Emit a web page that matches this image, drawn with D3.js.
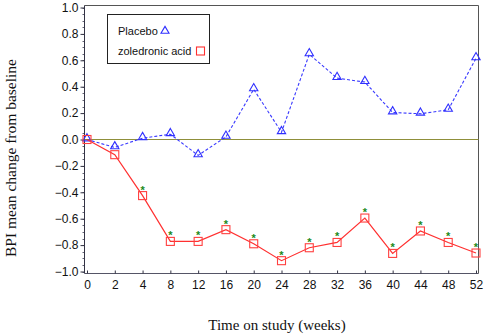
<!DOCTYPE html>
<html>
<head>
<meta charset="utf-8">
<script src="https://cdn.jsdelivr.net/npm/d3@7"></script>
<style>
  body { margin: 0; background: #fff; }
  .tick text { font-family: "Liberation Sans", Arial, sans-serif; font-size: 12px; fill: #111; }
</style>
</head>
<body>
<div id="chart"></div>
<script>
// chart data
const weeks = ['0', '2', '4', '8', '12', '16', '20', '24', '28', '32', '36', '40', '44', '48', '52'];
const placebo = [0.0, -0.06, 0.01, 0.04, -0.12, 0.02, 0.38, 0.055, 0.645, 0.465, 0.435, 0.205, 0.195, 0.225, 0.615];
const zoledronic = [0.0, -0.115, -0.425, -0.772, -0.772, -0.683, -0.79, -0.918, -0.82, -0.78, -0.595, -0.863, -0.693, -0.78, -0.86];
const significant = ['4', '8', '12', '16', '20', '24', '28', '32', '36', '40', '44', '48', '52'];
const yTicks = [-1.0, -0.8, -0.6, -0.4, -0.2, 0.0, 0.2, 0.4, 0.6, 0.8, 1.0];

const chartWidth = 486;
const chartHeight = 335;
const plotLeft = 84.5, plotRight = 478.5, plotTop = 5.5, plotBottom = 273.5;

const svg = d3.select('#chart')
  .append('svg')
  .attr('width', chartWidth)
  .attr('height', chartHeight);

const x = d3.scalePoint().domain(weeks).range([87, 476]);
const y = d3.scaleLinear().domain([-1, 1]).range([271.5, 7.5]);

// frame on top and right
svg.append('path')
  .attr('d', 'M' + plotLeft + ',' + plotTop + 'H' + plotRight + 'V' + plotBottom)
  .attr('fill', 'none')
  .attr('stroke', '#555')
  .attr('stroke-width', 1);

// minor ticks on the y axis
const minor = d3.range(-1, 1.0001, 0.05);
svg.append('g')
  .selectAll('line')
  .data(minor)
  .enter()
  .append('line')
  .attr('x1', plotLeft - 2)
  .attr('x2', plotLeft)
  .attr('y1', (d) => Math.round(y(d)) + 0.5)
  .attr('y2', (d) => Math.round(y(d)) + 0.5)
  .attr('stroke', '#667');

const yAxis = d3.axisLeft(y)
  .tickValues(yTicks)
  .tickSize(4)
  .tickPadding(2)
  .tickFormat((d) => d3.format('.1f')(d).replace('-', '\u2212'));

svg.append('g')
  .attr('transform', 'translate(' + plotLeft + ',0)')
  .call(yAxis)
  .call((g) => g.select('.domain').attr('d', 'M0,' + plotTop + 'V' + plotBottom).attr('stroke', '#334'))
  .call((g) => g.selectAll('.tick line').attr('stroke', '#334'));

const xAxis = d3.axisBottom(x)
  .tickSize(-3)
  .tickPadding(7);

svg.append('g')
  .attr('transform', 'translate(0,' + plotBottom + ')')
  .call(xAxis)
  .call((g) => g.select('.domain').attr('d', 'M' + plotLeft + ',0H' + plotRight).attr('stroke', '#556'))
  .call((g) => g.selectAll('.tick line').attr('stroke', '#334'));

// reference line at zero
svg.append('line')
  .attr('x1', plotLeft)
  .attr('x2', plotRight)
  .attr('y1', y(0))
  .attr('y2', y(0))
  .attr('stroke', '#8f8f3a')
  .attr('stroke-width', 1.2);

// placebo series
const seriesLine = d3.line()
  .x((d, i) => x(weeks[i]))
  .y((d) => y(d));

svg.append('path')
  .datum(placebo)
  .attr('d', seriesLine)
  .attr('fill', 'none')
  .attr('stroke', '#3838ff')
  .attr('stroke-width', 1.1)
  .attr('stroke-dasharray', '3,2');

svg.append('g')
  .selectAll('path')
  .data(placebo)
  .enter()
  .append('path')
  .attr('d', d3.symbol().type(d3.symbolTriangle).size(30))
  .attr('transform', (d, i) => 'translate(' + x(weeks[i]) + ',' + (y(d) - 1) + ')')
  .attr('fill', 'none')
  .attr('stroke', '#3030ff')
  .attr('stroke-width', 1.1);

// zoledronic acid series
svg.append('path')
  .datum(zoledronic)
  .attr('d', seriesLine)
  .attr('fill', 'none')
  .attr('stroke', '#ff3030')
  .attr('stroke-width', 1.2);

svg.append('g')
  .selectAll('rect')
  .data(zoledronic)
  .enter()
  .append('rect')
  .attr('x', (d, i) => x(weeks[i]) - 4)
  .attr('y', (d) => y(d) - 4)
  .attr('width', 8)
  .attr('height', 8)
  .attr('fill', 'none')
  .attr('stroke', '#ff4040')
  .attr('stroke-width', 1.1);

// significance stars
svg.append('g')
  .selectAll('text')
  .data(significant)
  .enter()
  .append('text')
  .attr('x', (d) => x(d))
  .attr('y', (d) => y(zoledronic[weeks.indexOf(d)]) - 2)
  .attr('text-anchor', 'middle')
  .attr('font-family', 'Liberation Sans, Arial, sans-serif')
  .attr('font-size', 11)
  .attr('font-weight', 'bold')
  .attr('fill', '#1a8a1a')
  .text('*');

// legend
const legend = svg.append('g');
legend.append('rect')
  .attr('x', 107.5)
  .attr('y', 14.5)
  .attr('width', 102)
  .attr('height', 49)
  .attr('fill', '#fff')
  .attr('stroke', '#222');

legend.append('text')
  .attr('x', 118)
  .attr('y', 35)
  .attr('font-family', 'Liberation Sans, Arial, sans-serif')
  .attr('font-size', 11)
  .attr('fill', '#111')
  .text('Placebo');

legend.append('path')
  .attr('d', d3.symbol().type(d3.symbolTriangle).size(28))
  .attr('transform', 'translate(165,31)')
  .attr('fill', 'none')
  .attr('stroke', '#3030ff')
  .attr('stroke-width', 1.1);

legend.append('text')
  .attr('x', 118)
  .attr('y', 55)
  .attr('font-family', 'Liberation Sans, Arial, sans-serif')
  .attr('font-size', 11)
  .attr('fill', '#111')
  .text('zoledronic acid');

legend.append('rect')
  .attr('x', 196.5)
  .attr('y', 47)
  .attr('width', 8)
  .attr('height', 8)
  .attr('fill', 'none')
  .attr('stroke', '#ff3030')
  .attr('stroke-width', 1.1);

// axis titles
svg.append('text')
  .attr('x', 277)
  .attr('y', 330)
  .attr('text-anchor', 'middle')
  .attr('font-family', 'Liberation Serif, Times New Roman, serif')
  .attr('font-size', 15)
  .attr('fill', '#111')
  .text('Time on study (weeks)');

svg.append('text')
  .attr('transform', 'translate(16,158) rotate(-90)')
  .attr('text-anchor', 'middle')
  .attr('font-family', 'Liberation Serif, Times New Roman, serif')
  .attr('font-size', 15.5)
  .attr('fill', '#111')
  .text('BPI mean change from baseline');
</script>
</body>
</html>
